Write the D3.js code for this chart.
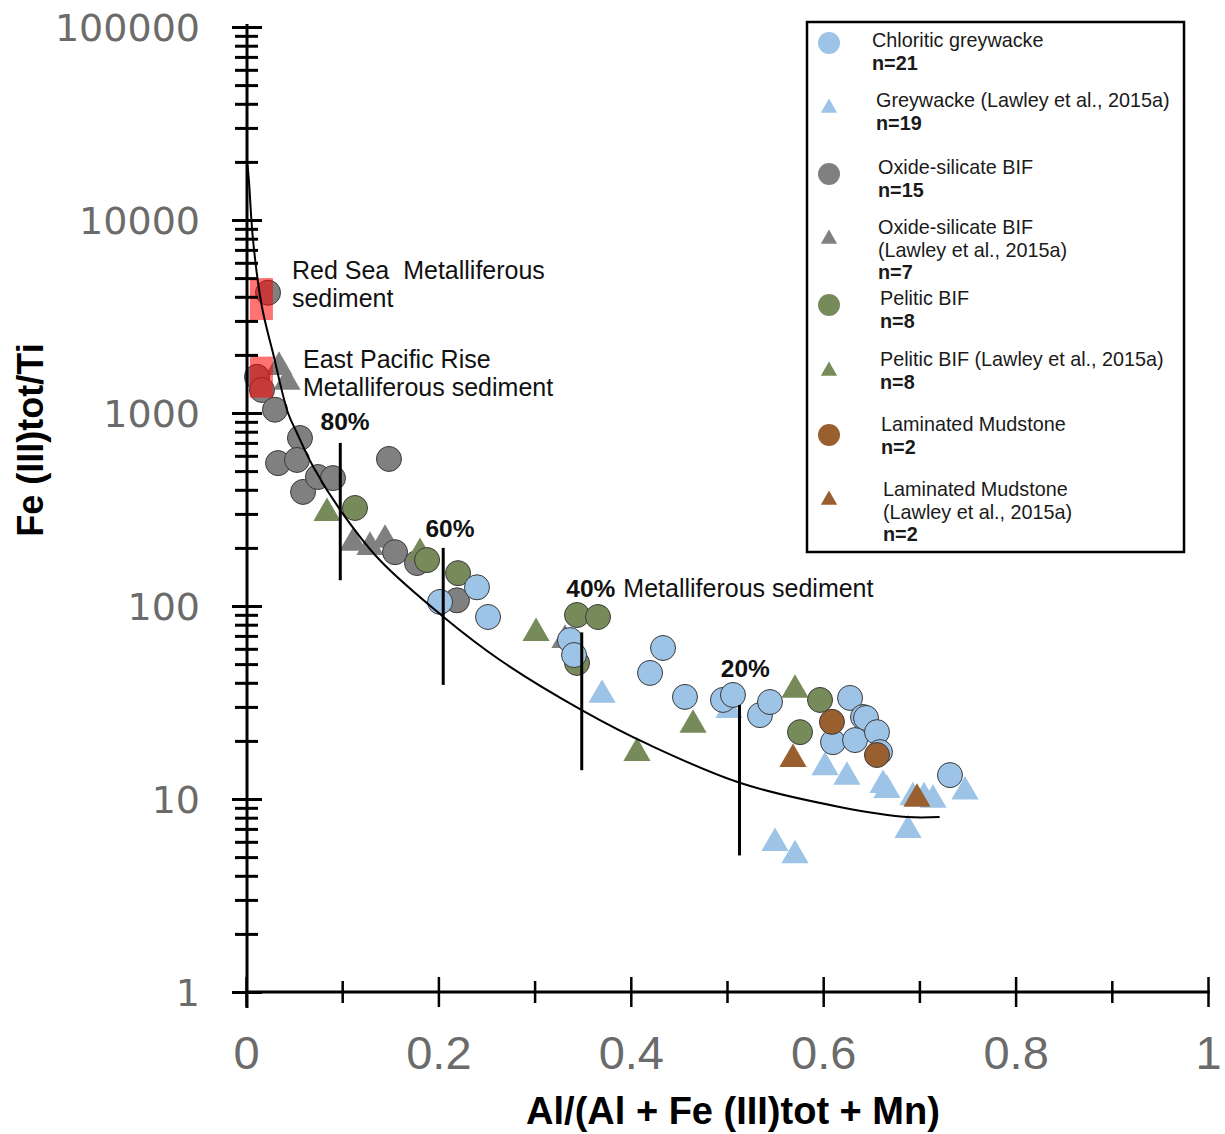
<!DOCTYPE html>
<html><head><meta charset="utf-8">
<script src="https://cdn.jsdelivr.net/npm/d3@7"></script>
<style>body{margin:0;background:#fff} svg{display:block}</style>
</head><body><svg id="c" width="1225" height="1134"></svg>
<script>
// ---------------- data ----------------
const xTicks = [0, 0.2, 0.4, 0.6, 0.8, 1];
const xMinorTicks = [0.1, 0.3, 0.5, 0.7, 0.9];
const yTicks = [1, 10, 100, 1000, 10000, 100000];
const yTickLabels = ["1", "10", "100", "1000", "10000", "100000"];
const xTitle = "Al/(Al + Fe (III)tot + Mn)";
const yTitle = "Fe (III)tot/Ti";

// [x, Fe/Ti]
const chloriticGreywacke = [[0.2017,105],[0.2401,125],[0.2516,87.7],[0.3368,66.6],[0.341,55.7],[0.4335,60.6],[0.42,45],[0.4563,33.8],[0.4958,32.6],[0.5062,34.6],[0.5343,27.2],[0.5447,31.8],[0.6279,33.4],[0.6414,26.6],[0.6445,26.3],[0.6102,19.7],[0.6331,20.2],[0.6559,22.2],[0.659,17.5],[0.7318,13.3]];
const greywackeLawley = [[0.3701,34.6],[0.5021,28.9],[0.6019,14.6],[0.6247,13.0],[0.6622,11.8],[0.6663,11.1],[0.6933,10.2],[0.7048,10.2],[0.7141,9.9],[0.7474,10.9],[0.6882,6.9],[0.5499,5.9],[0.5707,5.1]];
const oxideSilicateBIF = [[0.0229,4200],[0.0114,1540],[0.0166,1316],[0.0301,1040],[0.0561,742],[0.0333,550],[0.053,571],[0.0593,390],[0.0748,466],[0.0904,460],[0.1486,578],[0.1549,190],[0.1778,167],[0.2193,107]];
const oxideSilicateLawley = [[0.0343,1730],[0.0426,1448],[0.1112,212],[0.1289,202],[0.1445,220],[0.3316,66.6]];
const peliticBIF = [[0.1133,322],[0.1882,173],[0.2204,148],[0.3441,89.8],[0.3659,87.7],[0.3441,50.7],[0.5967,32.6],[0.5759,22.2]];
const peliticLawley = [[0.0842,303],[0.1809,188],[0.3015,72.4],[0.4064,17.3],[0.4647,24.2],[0.5707,36.7]];
const laminatedMudstone = [[0.6091,25.1],[0.6559,16.9]];
const laminatedLawley = [[0.5686,16.1],[0.6975,10.0]];

// metalliferous sediment fields [x0, x1, yLow, yHigh]
const redSeaField = [0.004, 0.028, 3030, 5000];
const eprField = [0.004, 0.028, 1200, 1960];

// mixing curve
const mixingCurve = [[0.0015,19300],[0.003,16100],[0.0073,7880],[0.0166,3540],[0.028,2050],[0.0437,1000],[0.053,788],[0.07,525],[0.098,314],[0.139,173],[0.205,88],[0.264,52.5],[0.349,28.9],[0.42,19],[0.514,12.1],[0.617,9.1],[0.687,8.07],[0.721,8.07]];
// mixing markers: x, yLow, yHigh, label, label x, label y
const mixMarks = [
  {label:"80%", x:0.098, lo:136, hi:700, lx:0.103, ly:816, anchor:"middle"},
  {label:"60%", x:0.205, lo:39, hi:200, lx:0.212, ly:228, anchor:"middle"},
  {label:"40%", x:0.349, lo:14.1, hi:73, lx:0.333, ly:111, anchor:"start"},
  {label:"20%", x:0.513, lo:5.1, hi:30.7, lx:0.519, ly:42.9, anchor:"middle"}
];

const series = [
  {name:["Chloritic greywacke"], n:"n=21", data:chloriticGreywacke, shape:"circle", color:"#9dc3e6"},
  {name:["Greywacke (Lawley et al., 2015a)"], n:"n=19", data:greywackeLawley, shape:"triangle", color:"#9dc3e6"},
  {name:["Oxide-silicate BIF"], n:"n=15", data:oxideSilicateBIF, shape:"circle", color:"#808080"},
  {name:["Oxide-silicate BIF","(Lawley et al., 2015a)"], n:"n=7", data:oxideSilicateLawley, shape:"triangle", color:"#808080"},
  {name:["Pelitic BIF"], n:"n=8", data:peliticBIF, shape:"circle", color:"#778b5a"},
  {name:["Pelitic BIF (Lawley et al., 2015a)"], n:"n=8", data:peliticLawley, shape:"triangle", color:"#778b5a"},
  {name:["Laminated Mudstone"], n:"n=2", data:laminatedMudstone, shape:"circle", color:"#9a5f2e"},
  {name:["Laminated Mudstone","(Lawley et al., 2015a)"], n:"n=2", data:laminatedLawley, shape:"triangle", color:"#9a5f2e"}
];
const drawOrder = [3,2,5,4,1,0,7,6];

// ---------------- chart ----------------
const svg = d3.select("#c");
const x = d3.scaleLinear().domain([0,1]).range([246,1208]);
const y = d3.scaleLog().domain([1,100000]).range([992,27]);
const SANS = "'Liberation Sans', Arial, sans-serif";
const NARROW = "'Liberation Sans Narrow', 'Arial Narrow', 'Liberation Sans', sans-serif";

// markers
const tri = d3.symbol().type(d3.symbolTriangle).size(320);
drawOrder.forEach(i => {
  const s = series[i];
  const g = svg.append("g");
  if (s.shape === "circle") {
    g.selectAll("circle").data(s.data).join("circle")
      .attr("cx", d => x(d[0])).attr("cy", d => y(d[1])).attr("r", 12.5)
      .attr("fill", s.color).attr("stroke", "#3a3a3a").attr("stroke-width", 1);
  } else {
    g.selectAll("path").data(s.data).join("path")
      .attr("d", tri).attr("transform", d => `translate(${x(d[0])},${y(d[1])})`)
      .attr("fill", s.color);
  }
});

// red fields
[redSeaField, eprField].forEach(f => {
  svg.append("rect").attr("x", x(f[0])).attr("width", x(f[1]) - x(f[0]))
    .attr("y", y(f[3])).attr("height", y(f[2]) - y(f[3]))
    .attr("fill", "#ff0000").attr("fill-opacity", 0.55);
});

// mixing curve
svg.append("path").datum(mixingCurve)
  .attr("d", d3.line().x(d => x(d[0])).y(d => y(d[1])).curve(d3.curveCatmullRom))
  .attr("fill", "none").attr("stroke", "#000").attr("stroke-width", 2);

mixMarks.forEach(m => {
  svg.append("line").attr("x1", x(m.x)).attr("x2", x(m.x)).attr("y1", y(m.hi)).attr("y2", y(m.lo))
    .attr("stroke", "#000").attr("stroke-width", 3);
  svg.append("text").attr("x", x(m.lx)).attr("y", y(m.ly)).attr("text-anchor", m.anchor)
    .attr("font-family", SANS).attr("font-weight", "bold").attr("font-size", 24.5).attr("fill", "#111")
    .text(m.label);
});
svg.append("text").attr("x", x(0.333) + 57).attr("y", y(111))
  .attr("font-family", SANS).attr("font-size", 25).attr("fill", "#111").text("Metalliferous sediment");

// annotations
const ann = [
  {lines:["Red Sea\u00a0 Metalliferous","sediment"], x:0.0478, y:4946},
  {lines:["East Pacific Rise","Metalliferous sediment"], x:0.0593, y:1710}
];
ann.forEach(a => {
  const t = svg.append("text").attr("font-family", SANS).attr("font-size", 25).attr("fill", "#111");
  a.lines.forEach((l, i) => t.append("tspan").attr("x", x(a.x)).attr("y", y(a.y) + i * 28).text(l));
});

// axes
const gx = svg.append("g").attr("transform", "translate(0,992)")
  .call(d3.axisBottom(x).tickValues(xTicks).tickSize(0).tickFormat(d => d3.format("~g")(d)));
gx.select(".domain").attr("stroke-width", 3).attr("d", "M246,0H1210");
gx.selectAll(".tick line").attr("y1", -15).attr("y2", 15).attr("stroke-width", 2.5);
gx.selectAll(".tick text").attr("dy", 0).attr("y", 77).attr("font-family", NARROW).attr("font-size", 47).attr("fill", "#6b6b6b");
const gxm = svg.append("g").attr("transform", "translate(0,992)")
  .call(d3.axisBottom(x).tickValues(xMinorTicks).tickSize(0).tickFormat(""));
gxm.select(".domain").remove();
gxm.selectAll(".tick line").attr("y1", -11).attr("y2", 11).attr("stroke-width", 2.5);

const yMinor = [];
for (let e = 0; e < 5; e++) for (let k = 2; k <= 9; k++) yMinor.push(k * Math.pow(10, e));
const gym = svg.append("g").attr("transform", "translate(247,0)")
  .call(d3.axisLeft(y).tickValues(yMinor).tickSize(0).tickFormat(""));
gym.select(".domain").remove();
gym.selectAll(".tick line").attr("x1", -12).attr("x2", 11).attr("stroke-width", 3);
const gy = svg.append("g").attr("transform", "translate(247,0)")
  .call(d3.axisLeft(y).tickValues(yTicks).tickSize(0).tickFormat((d, i) => yTickLabels[i]));
gy.select(".domain").attr("stroke-width", 3).attr("d", "M0,24V1008");
gy.selectAll(".tick line").attr("x1", -15).attr("x2", 15).attr("stroke-width", 3);
gy.selectAll(".tick text").attr("x", -47).attr("dy", "0.35em").attr("font-family", "'DejaVu Sans', Verdana, sans-serif")
  .attr("font-size", 38).attr("fill", "#6b6b6b");
svg.selectAll(".domain").attr("stroke", "#000");
svg.selectAll(".tick line").attr("stroke", "#000");

// titles
svg.append("text").attr("x", 733).attr("y", 1124).attr("text-anchor", "middle")
  .attr("font-family", NARROW).attr("font-weight", "bold").attr("font-size", 38).attr("fill", "#000").text(xTitle);
svg.append("text").attr("transform", "translate(43,440) rotate(-90)").attr("text-anchor", "middle")
  .attr("font-family", NARROW).attr("font-weight", "bold").attr("font-size", 36).attr("fill", "#000").text(yTitle);

// legend
const lg = svg.append("g");
lg.append("rect").attr("x", 807).attr("y", 22).attr("width", 377).attr("height", 530)
  .attr("fill", "#fff").attr("stroke", "#000").attr("stroke-width", 2.5);
const legY = [43, 108, 174, 239, 305, 371, 435, 500];
const legTextX = [872, 876, 878, 878, 880, 880, 881, 883];
const legTextY = [47, 107, 174, 234, 305, 366, 431, 496];
const triL = d3.symbol().type(d3.symbolTriangle).size(115);
series.forEach((s, i) => {
  if (s.shape === "circle") lg.append("circle").attr("cx", 829).attr("cy", legY[i]).attr("r", 11).attr("fill", s.color);
  else lg.append("path").attr("d", triL).attr("transform", `translate(829,${legY[i]})`).attr("fill", s.color);
  const t = lg.append("text").attr("font-family", SANS).attr("font-size", 19.8).attr("fill", "#1a1a1a");
  s.name.forEach((l, j) => t.append("tspan").attr("x", legTextX[i]).attr("y", legTextY[i] + j * 22.5).text(l));
  t.append("tspan").attr("x", legTextX[i]).attr("y", legTextY[i] + s.name.length * 22.5)
    .attr("font-weight", "bold").text(s.n);
});
</script></body></html>
